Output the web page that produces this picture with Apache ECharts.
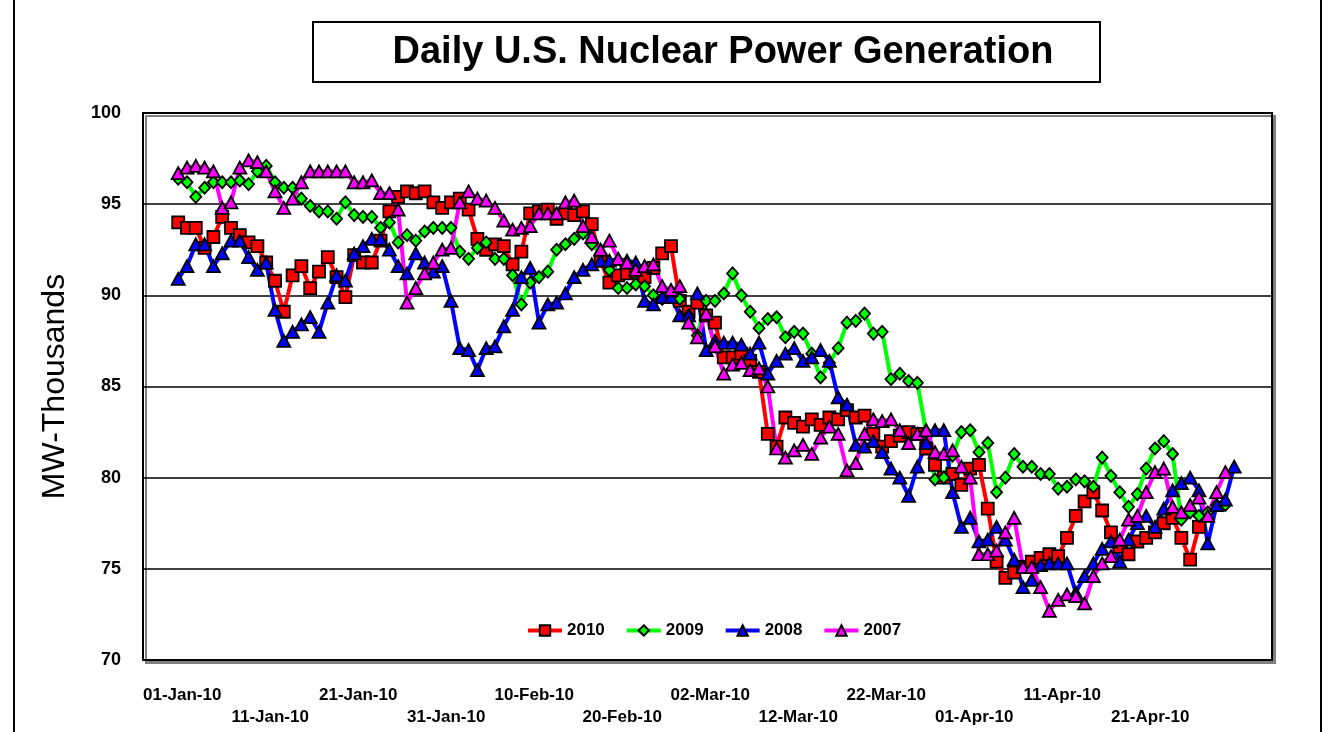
<!DOCTYPE html>
<html>
<head>
<meta charset="utf-8">
<script src="https://cdn.jsdelivr.net/npm/echarts@6/dist/echarts.min.js"></script>
<style>html,body{margin:0;padding:0;background:#fff}#c{width:1335px;height:732px}</style>
</head>
<body>
<div id="c"></div>
<script>
// Day index 0 = 01-Jan; each series is its own year's daily values from 1 Jan
var tickDays = [0, 10, 20, 30, 40, 50, 60, 70, 80, 90, 100, 110];
var tickLabels = ['01-Jan-10','11-Jan-10','21-Jan-10','31-Jan-10','10-Feb-10','20-Feb-10','02-Mar-10','12-Mar-10','22-Mar-10','01-Apr-10','11-Apr-10','21-Apr-10'];
var seriesNames = ['2010', '2009', '2008', '2007'];

var y2010 = [94.0,93.7,93.7,92.6,93.2,94.3,93.7,93.3,92.9,92.7,91.8,90.8,89.1,91.1,91.6,90.4,91.3,92.1,91.0,89.9,
92.2,91.8,91.8,93.0,94.6,95.4,95.7,95.6,95.7,95.1,94.8,95.1,95.3,94.7,93.1,92.5,92.8,92.7,91.7,92.4,
94.5,94.6,94.7,94.2,94.5,94.4,94.6,93.9,91.9,90.7,91.1,91.2,91.3,91.0,91.5,92.3,92.7,89.7,89.1,89.6,
88.9,88.5,86.6,86.6,86.8,86.4,85.8,82.4,81.7,83.3,83.0,82.8,83.2,82.9,83.3,83.2,83.7,83.3,83.4,82.4,
81.7,82.0,82.3,82.5,82.4,81.6,80.7,80.0,80.2,79.6,80.5,80.7,78.3,75.4,74.5,74.8,75.1,75.4,75.6,75.8,
75.7,76.7,77.9,78.7,79.2,78.2,77.0,76.2,75.8,76.5,76.7,77.0,77.5,77.8,76.7,75.5,77.3];

var y2009 = [96.4,96.2,95.4,95.9,96.2,96.2,96.2,96.3,96.1,96.8,97.1,96.2,95.9,95.9,95.3,94.9,94.6,94.6,94.2,95.1,
94.4,94.3,94.3,93.7,94.0,92.9,93.3,93.0,93.5,93.7,93.7,93.7,92.4,92.0,92.6,92.9,92.0,92.0,91.1,89.5,
90.7,91.0,91.3,92.5,92.8,93.1,93.4,92.8,92.3,91.4,90.4,90.4,90.6,90.5,90.0,89.8,90.1,89.8,88.9,87.8,
89.7,89.7,90.1,91.2,90.0,89.1,88.2,88.7,88.8,87.7,88.0,87.9,86.8,85.5,86.3,87.1,88.5,88.6,89.0,87.9,
88.0,85.4,85.7,85.3,85.2,82.5,79.9,80.0,81.2,82.5,82.6,81.4,81.9,79.2,80.0,81.3,80.6,80.6,80.2,80.2,
79.4,79.5,79.9,79.8,79.5,81.1,80.1,79.2,78.4,79.1,80.5,81.6,82.0,81.3,77.7,78.1,77.9,78.1,78.5,78.5];

var y2008 = [90.9,91.6,92.8,92.8,91.6,92.3,93.0,93.0,92.1,91.4,91.8,89.2,87.5,88.0,88.4,88.8,88.0,89.6,91.1,90.8,
92.3,92.7,93.1,93.1,92.5,91.6,91.2,92.3,91.8,91.3,91.6,89.7,87.1,87.0,85.9,87.1,87.2,88.3,89.2,91.0,
91.5,88.5,89.5,89.6,90.1,91.0,91.4,91.7,91.9,91.9,92.0,91.9,91.8,89.7,89.5,89.9,89.9,88.9,88.9,90.1,
87.0,87.5,87.4,87.4,87.3,86.8,87.4,85.7,86.4,86.8,87.1,86.4,86.6,87.0,86.4,84.4,84.0,81.8,81.7,82.0,
81.4,80.5,80.0,79.0,80.6,81.9,82.6,82.6,79.2,77.3,77.8,76.5,76.6,77.3,76.6,75.5,74.0,74.4,75.2,75.3,
75.3,75.3,73.7,74.6,75.3,76.1,76.5,75.4,76.6,77.5,77.9,77.3,78.3,79.3,79.7,80.0,79.3,76.4,78.5,78.8,
80.6];

var y2007 = [96.7,97.0,97.1,97.0,96.8,94.8,95.1,97.0,97.4,97.3,96.8,95.7,94.8,95.3,96.2,96.8,96.8,96.8,96.8,96.8,
96.2,96.2,96.3,95.6,95.6,94.7,89.6,90.4,91.2,91.8,92.5,92.6,95.1,95.7,95.3,95.2,94.8,94.1,93.6,93.7,
93.8,94.5,94.5,94.5,95.1,95.2,93.8,93.2,92.5,93.0,92.0,91.8,91.4,91.6,91.7,90.5,90.3,90.5,88.5,87.7,
89.0,87.2,85.7,86.2,86.3,85.9,86.0,85.0,81.6,81.1,81.5,81.8,81.3,82.2,82.8,82.4,80.4,80.8,82.4,83.2,
83.1,83.2,82.6,81.9,82.4,82.6,81.4,81.3,81.5,80.6,80.0,75.8,75.8,76.0,77.0,77.8,75.1,75.1,74.0,72.7,
73.3,73.6,73.5,73.1,74.6,75.3,75.7,76.6,77.7,77.9,79.2,80.3,80.5,78.4,78.1,78.5,78.9,77.9,79.2,80.3];

var yTicks = [70, 75, 80, 85, 90, 95, 100];

function pts(arr) { return arr.map(function (v, i) { return [i, v]; }); }

var FONT = 'Liberation Sans, Arial, sans-serif';
var chart = echarts.init(document.getElementById('c'), null, {renderer: 'canvas'});

function mk(name, data, color, symbol, size) {
  return {
    name: name, type: 'line', data: pts(data),
    symbol: symbol, symbolSize: size, showSymbol: true,
    lineStyle: {color: color, width: 4},
    itemStyle: {color: color, borderColor: '#000', borderWidth: 1.8},
    emphasis: {disabled: true}
  };
}

chart.setOption({
  animation: false,
  backgroundColor: '#fff',
  textStyle: {fontFamily: FONT},
  graphic: [
    {type: 'line', shape: {x1: 14, y1: 0, x2: 14, y2: 732}, style: {stroke: '#000', lineWidth: 2}},
    {type: 'line', shape: {x1: 1321, y1: 0, x2: 1321, y2: 732}, style: {stroke: '#000', lineWidth: 2}},
    {type: 'rect', shape: {x: 313, y: 22, width: 787, height: 60}, style: {fill: '#fff', stroke: '#000', lineWidth: 2}, z: -1},
    {type: 'text', x: 723, y: 53, style: {text: 'Daily U.S. Nuclear Power Generation', font: 'bold 38px ' + FONT, fill: '#000', align: 'center', verticalAlign: 'middle'}}
  ],
  grid: {
    left: 143, right: 63, top: 113, bottom: 72,
    show: true, backgroundColor: '#fff', borderColor: '#000', borderWidth: 2,
    shadowColor: '#808080', shadowOffsetX: 3, shadowOffsetY: 3, shadowBlur: 0
  },
  legend: {
    data: seriesNames, left: 521, top: 617, itemWidth: 34, itemHeight: 13, itemGap: 20,
    lineStyle: {width: 4},
    textStyle: {fontFamily: FONT, fontWeight: 'bold', fontSize: 17, color: '#000'}
  },
  xAxis: {
    type: 'value', min: -4, max: 124.3,
    axisLine: {show: false}, axisTick: {show: false}, splitLine: {show: false},
    axisLabel: {
      customValues: tickDays,
      formatter: function (v) {
        var i = tickDays.indexOf(v);
        if (i < 0) return '';
        return (i % 2) ? '\n' + tickLabels[i] : tickLabels[i];
      },
      fontFamily: FONT, fontWeight: 'bold', fontSize: 17, color: '#000', margin: 24, lineHeight: 22,
      padding: [0, 0, 0, 8]
    }
  },
  yAxis: {
    type: 'value', min: 70, max: 100, interval: 5,
    name: 'MW-Thousands', nameLocation: 'middle', nameGap: 72,
    nameTextStyle: {fontFamily: FONT, fontSize: 32, color: '#000'},
    axisLine: {show: false}, axisTick: {show: false},
    splitLine: {show: true, lineStyle: {color: '#000', width: 1.5}},
    axisLabel: {fontFamily: FONT, fontWeight: 'bold', fontSize: 18, color: '#000', margin: 22}
  },
  series: [
    mk(seriesNames[0], y2010, '#FF0000', 'rect', 12),
    mk(seriesNames[1], y2009, '#00FF00', 'diamond', [11, 12]),
    mk(seriesNames[2], y2008, '#0000FF', 'triangle', [13, 12]),
    mk(seriesNames[3], y2007, '#FF00FF', 'triangle', [13, 12])
  ]
});
</script>
</body>
</html>
